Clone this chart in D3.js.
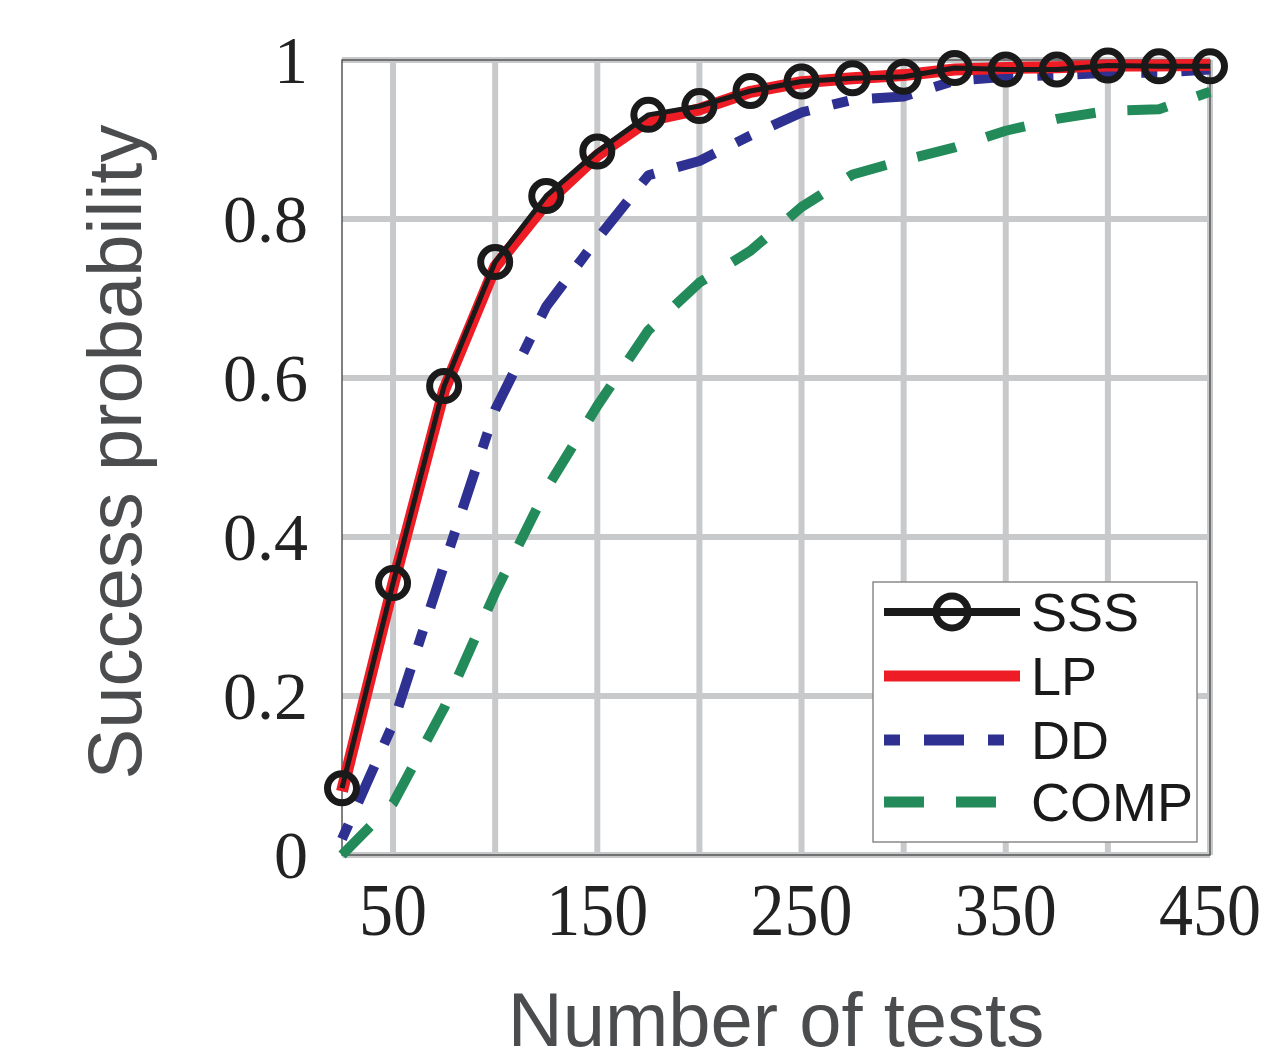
<!DOCTYPE html>
<html lang="en">
<head>
  <meta charset="UTF-8">
  <title>Success probability vs number of tests</title>
  <script src="https://d3js.org/d3.v7.min.js"></script>
  <style>
    body { margin: 0; background: #fff; }
  </style>
</head>
<body>
  <div id="chart"></div>
  <script>
    // number of tests (x) and success probability per method
    const tests = [25, 50, 75, 100, 125, 150, 175, 200, 225, 250, 275, 300, 325, 350, 375, 400, 425, 450];
    const sss  = [0.084, 0.342, 0.59, 0.746, 0.829, 0.885, 0.931, 0.942, 0.961, 0.973, 0.977, 0.979, 0.99, 0.988, 0.988, 0.993, 0.992, 0.992];
    const lp   = [0.08, 0.34, 0.585, 0.74, 0.82, 0.88, 0.924, 0.938, 0.96, 0.972, 0.977, 0.981, 0.988, 0.99, 0.991, 0.993, 0.993, 0.994];
    const dd   = [0.02, 0.165, 0.365, 0.56, 0.69, 0.775, 0.855, 0.873, 0.905, 0.934, 0.95, 0.954, 0.974, 0.979, 0.981, 0.984, 0.984, 0.988];
    const comp = [0, 0.065, 0.185, 0.33, 0.46, 0.565, 0.66, 0.72, 0.76, 0.815, 0.856, 0.874, 0.89, 0.911, 0.926, 0.936, 0.938, 0.96];

    const xTickLabels = [50, 150, 250, 350, 450];
    const xGrid = [50, 100, 150, 200, 250, 300, 350, 400, 450];
    const yTicks = [0, 0.2, 0.4, 0.6, 0.8, 1];

    const width = 1275, height = 1062;
    const svg = d3.select("#chart").append("svg")
      .attr("width", width)
      .attr("height", height);

    const x = d3.scaleLinear().domain([25, 450]).range([342, 1210]);
    const y = d3.scaleLinear().domain([0, 1]).range([855, 60]);

    // grid
    const grid = svg.append("g");
    grid.selectAll("line.v").data(xGrid).join("line")
      .attr("x1", d => x(d)).attr("x2", d => x(d))
      .attr("y1", y(0)).attr("y2", y(1))
      .attr("stroke", "#c8c9cb").attr("stroke-width", 6);
    grid.selectAll("line.h").data(yTicks).join("line")
      .attr("x1", x(25)).attr("x2", x(450))
      .attr("y1", d => y(d)).attr("y2", d => y(d))
      .attr("stroke", "#c8c9cb").attr("stroke-width", 6);

    // frame
    svg.append("rect")
      .attr("x", x(25)).attr("y", y(1))
      .attr("width", x(450) - x(25)).attr("height", y(0) - y(1))
      .attr("fill", "none").attr("stroke", "#555").attr("stroke-width", 1.5);

    // tick labels
    svg.append("g").selectAll("text").data(yTicks).join("text")
      .attr("x", 308).attr("y", d => y(d))
      .attr("dy", "0.34em")
      .attr("text-anchor", "end")
      .attr("font-family", "'Liberation Serif', 'DejaVu Serif', serif")
      .attr("font-size", 68)
      .attr("fill", "#222")
      .text(d => d3.format("")(d));

    svg.append("g").selectAll("text").data(xTickLabels).join("text")
      .attr("transform", d => `translate(${x(d)},935) scale(1,1.1)`)
      .attr("text-anchor", "middle")
      .attr("font-family", "'Liberation Serif', 'DejaVu Serif', serif")
      .attr("font-size", 68)
      .attr("fill", "#222")
      .text(d => d);

    // axis titles
    svg.append("text")
      .attr("x", 776).attr("y", 1046)
      .attr("text-anchor", "middle")
      .attr("font-family", "'Liberation Sans', Arial, sans-serif")
      .attr("font-size", 76)
      .attr("fill", "#4b4c4e")
      .text("Number of tests");

    svg.append("text")
      .attr("transform", "translate(141,452) rotate(-90)")
      .attr("text-anchor", "middle")
      .attr("font-family", "'Liberation Sans', Arial, sans-serif")
      .attr("font-size", 76)
      .attr("fill", "#4b4c4e")
      .text("Success probability");

    // series
    const series = [
      { name: "COMP", values: comp, color: "#238b5a", width: 10, dash: "40,32", marker: false },
      { name: "DD",   values: dd,   color: "#2e3192", width: 10, dash: "16,24,40,24", marker: false },
      { name: "LP",   values: lp,   color: "#ee1c25", width: 12, dash: null, marker: false },
      { name: "SSS",  values: sss,  color: "#1a1a1a", width: 5, dash: null, marker: true }
    ];

    const line = d3.line()
      .x(d => x(d[0]))
      .y(d => y(d[1]));

    series.forEach(s => {
      const pts = tests.map((t, i) => [t, s.values[i]]);
      svg.append("path")
        .datum(pts)
        .attr("d", line)
        .attr("fill", "none")
        .attr("stroke", s.color)
        .attr("stroke-width", s.width)
        .attr("stroke-dasharray", s.dash)
        .attr("stroke-linejoin", "round");
      if (s.marker) {
        svg.append("g").selectAll("circle").data(pts).join("circle")
          .attr("cx", d => x(d[0])).attr("cy", d => y(d[1]))
          .attr("r", 14.5)
          .attr("fill", "none")
          .attr("stroke", s.color)
          .attr("stroke-width", 7);
      }
    });

    // legend
    const legend = svg.append("g").attr("transform", "translate(873,582)");
    legend.append("rect")
      .attr("width", 324).attr("height", 260)
      .attr("fill", "#fff").attr("stroke", "#8a8a8a").attr("stroke-width", 1.5);

    const legendOrder = ["SSS", "LP", "DD", "COMP"];
    const legendY = [30, 94, 158, 220];
    legendOrder.forEach((name, i) => {
      const s = series.find(d => d.name === name);
      const g = legend.append("g").attr("transform", `translate(0,${legendY[i]})`);
      g.append("line")
        .attr("x1", 11).attr("x2", 147)
        .attr("stroke", s.color)
        .attr("stroke-width", s.marker ? 8 : 11)
        .attr("stroke-dasharray", s.dash);
      if (s.marker) {
        g.append("circle")
          .attr("cx", 79).attr("r", 16)
          .attr("fill", "none").attr("stroke", s.color).attr("stroke-width", 7);
      }
      g.append("text")
        .attr("x", 158).attr("dy", "0.36em")
        .attr("font-family", "'Liberation Sans', Arial, sans-serif")
        .attr("font-size", 54)
        .attr("fill", "#1a1a1a")
        .text(name);
    });
  </script>
</body>
</html>
